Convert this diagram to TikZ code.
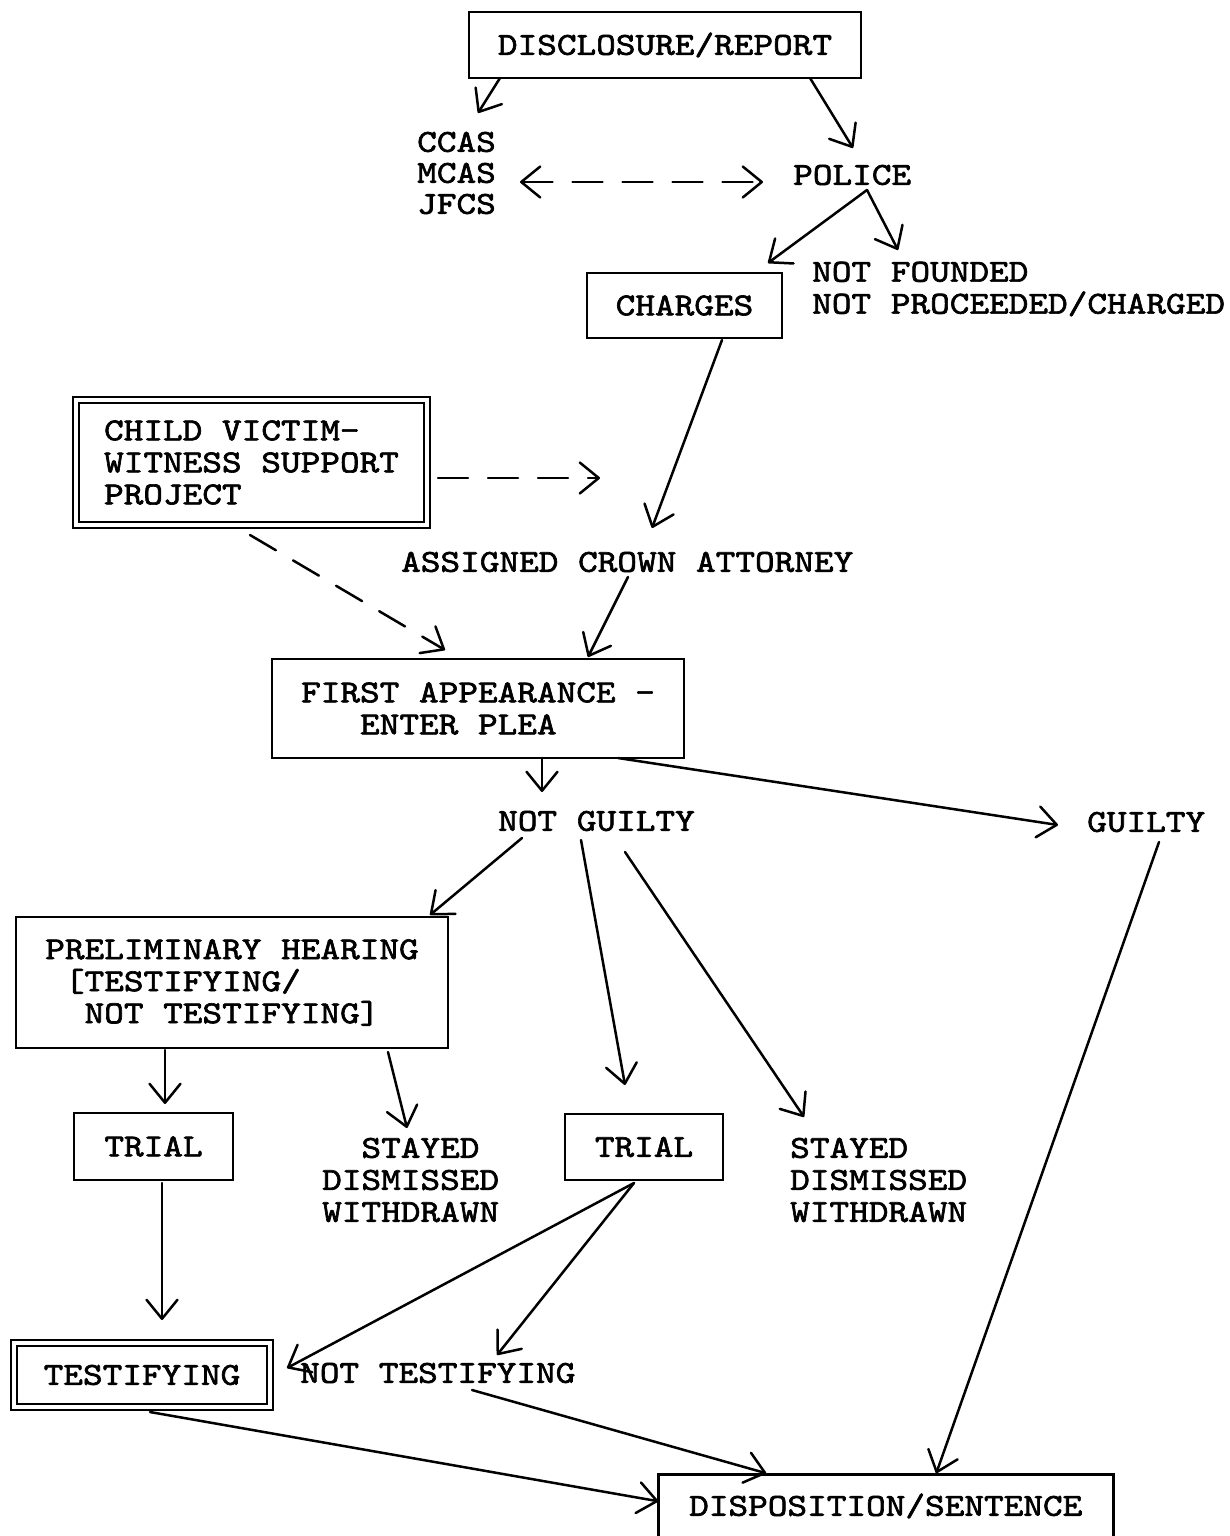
\documentclass[tikz,border=0pt]{standalone}
\usepackage{fontspec}
\newfontfamily\typewriter{lmmono10-regular.otf}[FakeStretch=1.17,FakeBold=2]
\usetikzlibrary{arrows.meta}

\begin{document}
\begin{tikzpicture}[x=1pt,y=-1pt,
  font=\typewriter\fontsize{32}{32}\selectfont,
  vtip/.tip={Straight Barb[length=19pt,width=31pt,round]},
  lbl/.style={inner sep=0pt, align=left, anchor=west},
  box/.style={draw, line width=2.5pt, inner sep=0pt, align=left},
  dbox/.style={box, double, double distance=3.5pt, line width=2.2pt},
  conn/.style={line width=2.5pt, line cap=round, -vtip},
  dconn/.style={conn, dash pattern=on 30pt off 20pt}]

\useasboundingbox (0,0) rectangle (1230,1536);

% boxes
\node[box, minimum width=392, minimum height=66] (disc) at (665,45) {DISCLOSURE/REPORT};
\node[box, minimum width=195, minimum height=65] (charges) at (684.5,305.5) {CHARGES};
\node[dbox, minimum width=351, minimum height=125] (child) at (251.5,462.5)
  {CHILD VICTIM-\\WITNESS SUPPORT\\PROJECT};
\node[box, minimum width=412, minimum height=99] (first) at (478,708.5)
  {FIRST APPEARANCE -\\\phantom{XXX}ENTER PLEA};
\node[box, minimum width=432, minimum height=131] (prelim) at (232,982.5)
  {PRELIMINARY HEARING\\\phantom{X}[TESTIFYING/\\\phantom{XX}NOT TESTIFYING]};
\node[box, minimum width=159, minimum height=67] (trialA) at (153.5,1146.5) {TRIAL};
\node[box, minimum width=158, minimum height=66] (trialB) at (644,1147) {TRIAL};
\node[dbox, minimum width=256, minimum height=64] (testif) at (142,1375) {TESTIFYING};
\node[draw, line width=2.5pt, inner sep=0pt, anchor=north west, minimum width=455,
  text height=41.5pt, text depth=58.5pt] (disp) at (657,1473) {DISPOSITION/SENTENCE};

% free-standing labels
\node[lbl, font=\typewriter\fontsize{32}{31}\selectfont] (ccas) at (417,173) {CCAS\\MCAS\\JFCS};
\node[lbl] (police) at (793,175) {POLICE};
\node[lbl] (nf) at (812,289) {NOT FOUNDED\\NOT PROCEEDED/CHARGED};
\node[lbl] (assigned) at (401,562) {ASSIGNED CROWN ATTORNEY};
\node[lbl] (ng) at (498,821) {NOT GUILTY};
\node[lbl] (guilty) at (1087,822) {GUILTY};
\node[lbl] (stayA) at (322,1180) {\phantom{XX}STAYED\\DISMISSED\\WITHDRAWN};
\node[lbl] (stayB) at (790,1180) {STAYED\\DISMISSED\\WITHDRAWN};
\node[lbl] (nt) at (300,1373) {NOT TESTIFYING};
\coordinate (cvend) at (600,478);

% connectors
\draw[conn] ([shift={(-165,33)}]disc.center) -- ([shift={(61,-60)}]ccas.west);
\draw[conn] ([shift={(145,33)}]disc.center) -- ([shift={(60,-27)}]police.west);
\draw[dconn, vtip-vtip] ([shift={(103,9)}]ccas.west) -- ([shift={(-30,7)}]police.west);
\draw[conn] ([shift={(74,15)}]police.west) -- ([shift={(83.5,-42.5)}]charges.center);
\draw[conn] ([shift={(74,15)}]police.west) -- ([shift={(86,-39)}]nf.west);
\draw[conn] ([shift={(37.5,34.5)}]charges.center) -- ([shift={(251,-34)}]assigned.west);
\draw[dconn] ([shift={(186.5,15.5)}]child.center) -- (cvend);
\draw[dconn] ([shift={(-1.5,72.5)}]child.center) -- ([shift={(-33,-58.5)}]first.center);
\draw[conn] ([shift={(227,15)}]assigned.west) -- ([shift={(110,-51.5)}]first.center);
\draw[conn] ([shift={(64,49.5)}]first.center) -- ([shift={(44,-29)}]ng.west);
\draw[conn] ([shift={(140,49.5)}]first.center) -- ([shift={(-29,3)}]guilty.west);
\draw[conn] ([shift={(72,20)}]guilty.west) -- ([shift={(50.5,-51)}]disp.center);
\draw[conn] ([shift={(24,17)}]ng.west) -- ([shift={(198,-67.5)}]prelim.center);
\draw[conn] ([shift={(83,19)}]ng.west) -- ([shift={(-19,-62)}]trialB.center);
\draw[conn] ([shift={(127,31)}]ng.west) -- ([shift={(14,-63)}]stayB.west);
\draw[conn] ([shift={(-67,67.5)}]prelim.center) -- ([shift={(11.5,-42.5)}]trialA.center);
\draw[conn] ([shift={(156,69.5)}]prelim.center) -- ([shift={(85,-52)}]stayA.west);
\draw[conn] ([shift={(8.5,36.5)}]trialA.center) -- ([shift={(20,-55)}]testif.center);
\draw[conn] ([shift={(-10,36)}]trialB.center) -- ([shift={(145,-7)}]testif.center);
\draw[conn] ([shift={(-10,36)}]trialB.center) -- ([shift={(197,-18)}]nt.west);
\draw[conn] ([shift={(8,37)}]testif.center) -- ([shift={(-227.5,-23)}]disp.center);
\draw[conn] ([shift={(172,17)}]nt.west) -- ([shift={(-119.5,-51)}]disp.center);
\end{tikzpicture}
\end{document}
